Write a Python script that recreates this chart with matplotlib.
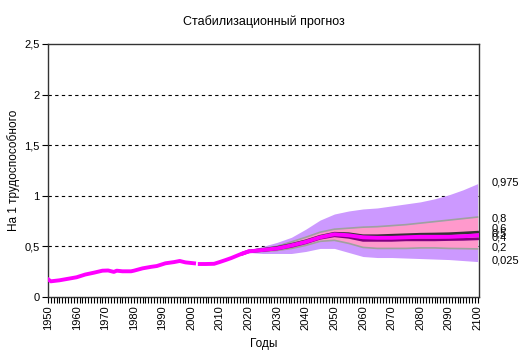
import matplotlib
matplotlib.use("Agg")
import matplotlib.pyplot as plt
import numpy as np
from matplotlib.ticker import MultipleLocator, FuncFormatter

plt.rcParams['font.family'] = ['Liberation Sans', 'DejaVu Sans']

# Historical data
hist_years = [1950, 1951, 1954, 1957, 1960, 1963, 1966, 1969, 1971, 1973, 1974, 1976, 1979, 1980,
              1983, 1986, 1988, 1991, 1994, 1996, 1998, 2001]
hist_vals = [0.175, 0.155, 0.165, 0.18, 0.195, 0.222, 0.24, 0.26, 0.262, 0.248, 0.26, 0.254, 0.254, 0.26,
             0.283, 0.298, 0.306, 0.333, 0.345, 0.356, 0.342, 0.333]
hist2_years = [2003, 2005, 2008, 2010, 2012, 2014, 2017, 2020]
hist2_vals = [0.326, 0.326, 0.328, 0.346, 0.365, 0.385, 0.42, 0.45]

# Forecast quantiles
fc_years = [2018, 2020, 2025, 2030, 2035, 2040, 2045, 2050, 2055, 2060, 2065, 2070, 2075, 2080,
            2085, 2090, 2095, 2100]
q975 = [0.44, 0.46, 0.50, 0.54, 0.59, 0.67, 0.76, 0.82, 0.85, 0.87, 0.88, 0.90, 0.92, 0.94,
        0.97, 1.01, 1.06, 1.12]
q80 = [0.435, 0.455, 0.48, 0.50, 0.545, 0.59, 0.64, 0.67, 0.68, 0.69, 0.695, 0.705, 0.715, 0.73,
       0.745, 0.76, 0.775, 0.79]
q60 = [0.432, 0.452, 0.47, 0.49, 0.52, 0.555, 0.60, 0.63, 0.625, 0.605, 0.605, 0.61, 0.615, 0.62,
       0.622, 0.625, 0.632, 0.64]
q50 = [0.43, 0.45, 0.465, 0.48, 0.51, 0.545, 0.59, 0.62, 0.61, 0.59, 0.585, 0.585, 0.59, 0.595,
       0.595, 0.595, 0.60, 0.61]
q40 = [0.428, 0.448, 0.46, 0.475, 0.50, 0.535, 0.58, 0.605, 0.59, 0.56, 0.56, 0.56, 0.565, 0.565,
       0.565, 0.568, 0.57, 0.575]
q20 = [0.425, 0.445, 0.45, 0.46, 0.48, 0.51, 0.55, 0.56, 0.53, 0.49, 0.48, 0.48, 0.48, 0.485,
       0.485, 0.48, 0.478, 0.475]
q025 = [0.42, 0.44, 0.43, 0.43, 0.43, 0.45, 0.48, 0.48, 0.44, 0.40, 0.39, 0.39, 0.385, 0.38,
        0.375, 0.37, 0.36, 0.35]

label_texts = ['0,975', '0,8', '0,6', '0,5', '0,4', '0,2', '0,025']

fig = plt.figure(figsize=(5.28, 3.59), dpi=100)
ax = fig.add_axes([48/528, 1-297/359, (479-48)/528, (297-44)/359])

for g in [0.5, 1.0, 1.5, 2.0]:
    ax.axhline(g, color='black', lw=0.8, dashes=(3, 3), zorder=0)

ax.fill_between(fc_years, q025, q975, color='#CC99FF', lw=0, zorder=1)
ax.fill_between(fc_years, q20, q80, color='#FF99CC', lw=0, zorder=2)
ax.plot(fc_years, q80, color='#A0A0A0', lw=1.2, zorder=3)
ax.plot(fc_years, q20, color='#A0A0A0', lw=1.2, zorder=3)
ax.plot(fc_years, q60, color='#333333', lw=2.0, zorder=4)
ax.plot(fc_years, q40, color='#800080', lw=2.0, zorder=4)
ax.plot(fc_years, q50, color='#FF00FF', lw=2.8, zorder=5)
ax.plot(hist_years, hist_vals, color='#FF00FF', lw=2.8, zorder=5)
ax.plot(hist2_years, hist2_vals, color='#FF00FF', lw=2.8, zorder=5)

ax.set_xlim(1950, 2100.5)
ax.set_ylim(0, 2.5)
ax.xaxis.set_major_locator(MultipleLocator(10))
ax.xaxis.set_minor_locator(MultipleLocator(1))
ax.yaxis.set_major_locator(MultipleLocator(0.5))
ax.yaxis.set_major_formatter(FuncFormatter(lambda v, p: ('%g' % v).replace('.', ',')))
ax.tick_params(axis='x', which='both', direction='out', length=4, width=0.8, labelsize=8,
               labelrotation=90, pad=2)
ax.tick_params(axis='y', direction='out', length=4, width=0.8, labelsize=8, pad=2)
for s in ax.spines.values():
    s.set_color('#333333')
    s.set_linewidth(1.0)

ax.set_xlabel('Годы', fontsize=8.5, labelpad=6)
ax.set_ylabel('На 1 трудоспособного', fontsize=8.5, labelpad=3)
fig.text(0.5, 1-22/359, 'Стабилизационный прогноз', ha='center', va='center', fontsize=9)

label_y = [1.127, 0.78, 0.68, 0.63, 0.59, 0.49, 0.356]
for t, yv in zip(label_texts, label_y):
    ax.text(2105, yv, t, fontsize=8, va='center', ha='left', clip_on=False)

fig.savefig('out.png', dpi=100)
